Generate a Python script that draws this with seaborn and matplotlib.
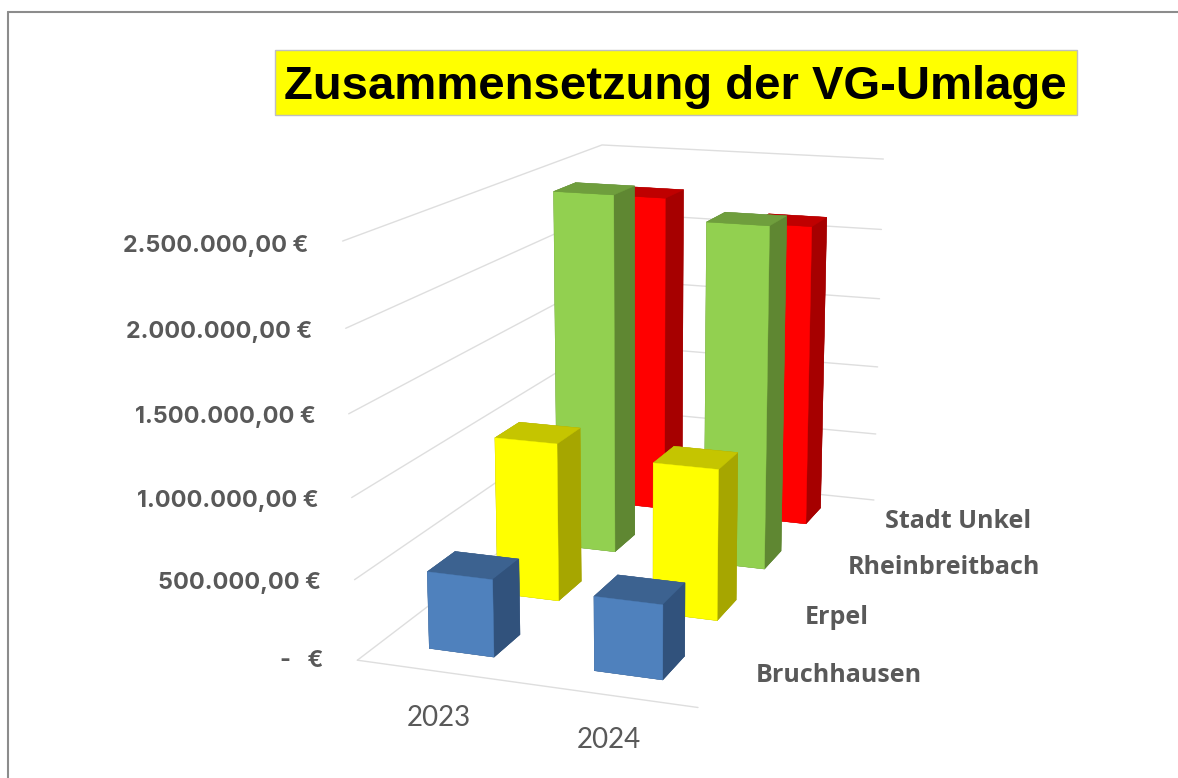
import numpy as np
import matplotlib
matplotlib.use("Agg")
import matplotlib.pyplot as plt
import seaborn as sns
from matplotlib.lines import Line2D
from matplotlib.patches import Rectangle

# values
years = ["2023", "2024"]
series = ["Bruchhausen", "Erpel", "Rheinbreitbach", "Stadt Unkel"]
bruchhausen = [482500, 456800]
erpel = [1032700, 972400]
rheinbreitbach = [2437100, 2297000]
stadt_unkel = [2256600, 2119900]
z_ticks = [0, 500000, 1000000, 1500000, 2000000, 2500000]
z_labels = ["-   €", "500.000,00 €", "1.000.000,00 €", "1.500.000,00 €", "2.000.000,00 €", "2.500.000,00 €"]

# front, top, side colour of the bars
bar_colors = [
    ("#4F81BD", "#3C6290", "#31527C"),
    ("#FFFF00", "#C5C500", "#A6A600"),
    ("#92D050", "#6F9E3D", "#5F8732"),
    ("#FF0000", "#BF0000", "#A60000"),
]

W, H = 1178, 778
GRAY = "#595959"

sns.set_theme(style="white")
plt.rcParams["font.family"] = ["Lato", "DejaVu Sans"]

fig = plt.figure(figsize=(W / 100, H / 100), dpi=100, facecolor="white")
ax = fig.add_axes([0, 0, 1, 1], projection="3d", computed_zorder=False)
ax.set_xlim(0, 2)
ax.set_ylim(0, 4)
ax.set_zlim(0, z_ticks[-1])
ax.set_axis_off()
ax.view_init(14.38, -70.35)
ax.set_proj_type("persp", focal_length=0.5043)
ax.set_box_aspect((1, 1.9445, 1.1862))

# place the square 3d axes so the scene sits where it does in the chart
scale, tx, ty = 4270.09, 643.42, 387.66
x0, x1 = ax.viewLim.intervalx
y0, y1 = ax.viewLim.intervaly
ax.set_position([(tx + scale * x0) / W, (H - ty + scale * y0) / H,
                 scale * (x1 - x0) / W, scale * (y1 - y0) / H])

# grid on the left wall and the back wall, floor edge at the front
grid = "#DEDEDE"
for z in z_ticks:
    ax.plot([0, 0, 2], [0, 4, 4], [z, z, z], color=grid, lw=1, zorder=1)
ax.plot([0, 2], [0, 0], [0, 0], color=grid, lw=1, zorder=1)

# back to front so the nearer bars cover the others
bar_w, bar_d = 0.3984, 0.3849
values = [bruchhausen, erpel, rheinbreitbach, stadt_unkel]
order = 2
for j in [3, 2, 1, 0]:
    front, top, side = bar_colors[j]
    for i in range(len(years)):
        # faces: bottom, top, front, back, left, right
        faces = [side, top, front, side, side, side]
        ax.bar3d(i + 0.5 - bar_w / 2, j + 0.5 - bar_d / 2, 0, bar_w, bar_d, values[j][i],
                 color=faces, edgecolor=faces, linewidth=0.3, shade=False, zorder=order)
        order += 1

def put(x, y, s, **kw):
    fig.text(x / W, 1 - y / H, s, **kw)

# value axis labels
z_right = [323, 321, 319, 316, 312, 308]
z_mid = [661, 583, 501, 417, 332, 246]
for lab, x, y in zip(z_labels, z_right, z_mid):
    put(x, y, lab, ha="right", va="center", fontsize=16.8, fontweight="bold", color=GRAY, family=["Inter"])

# series labels
s_left = [756, 805, 848, 885]
s_mid = [676, 618, 567, 522]
for lab, x, y in zip(series, s_left, s_mid):
    put(x, y, lab, ha="left", va="center", fontsize=18, fontweight="bold", color=GRAY, family=["Open Sans"])

# year labels
for lab, x, y in zip(years, [439, 609], [718, 740]):
    put(x, y, lab, ha="center", va="center", fontsize=20, color=GRAY)

# title box
fig.add_artist(Rectangle((275 / W, 1 - 115 / H), 802 / W, 65 / H, transform=fig.transFigure,
                         facecolor="#FFFF00", edgecolor="#BFBFBF", linewidth=1))
put(675.5, 87, "Zusammensetzung der VG-Umlage", ha="center", va="center", fontsize=34,
    fontweight="bold", color="black", family=["Liberation Sans"], zorder=3)

# chart frame, cut by the image on the right and at the bottom
frame = "#8C8C8C"
fig.add_artist(Line2D([8 / W, 8 / W], [0, 1 - 12 / H], color=frame, lw=1.5))
fig.add_artist(Line2D([8 / W, 1], [1 - 12 / H, 1 - 12 / H], color=frame, lw=1.5))

plt.savefig("out.png", dpi=100)
